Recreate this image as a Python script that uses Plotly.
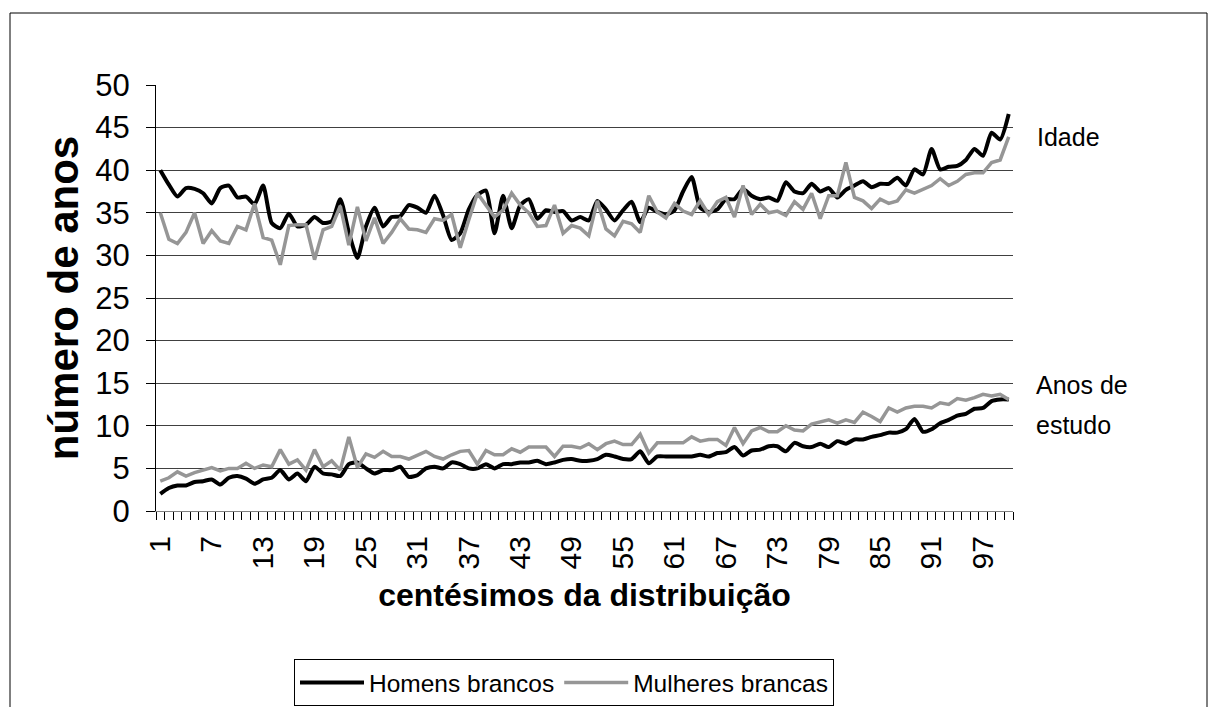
import plotly.graph_objects as go

percentis = list(range(1, 101))

homens_idade = [40.0, 38.3, 36.9, 37.9, 37.8, 37.3, 36.1, 37.9, 38.2, 36.8,
                36.9, 36.0, 38.2, 33.8, 33.2, 34.9, 33.4, 33.6, 34.5, 33.8,
                34.0, 36.6, 32.7, 29.7, 33.4, 35.6, 33.4, 34.5, 34.6, 35.9,
                35.6, 35.0, 37.0, 34.7, 31.8, 32.6, 35.4, 37.1, 37.6, 32.6,
                37.0, 33.2, 35.9, 36.6, 34.3, 35.3, 35.1, 35.2, 34.1, 34.5,
                34.1, 36.4, 35.4, 34.1, 35.3, 36.3, 33.9, 35.6, 35.1, 34.8,
                35.3, 37.5, 39.2, 35.6, 35.1, 35.4, 36.6, 36.6, 37.8, 37.0,
                36.6, 36.8, 36.4, 38.6, 37.5, 37.3, 38.4, 37.5, 37.9, 36.8,
                37.7, 38.2, 38.7, 38.0, 38.4, 38.4, 39.1, 38.2, 40.1, 39.5,
                42.5, 40.1, 40.4, 40.5, 41.2, 42.5, 41.7, 44.4, 43.6, 46.6]

mulheres_idade = [35.0, 31.9, 31.4, 32.7, 35.0, 31.4, 32.9, 31.7, 31.4, 33.4,
                  33.0, 36.1, 32.1, 31.8, 28.9, 33.5, 33.6, 33.6, 29.5, 33.0,
                  33.4, 35.8, 31.2, 35.7, 31.7, 34.4, 31.4, 32.7, 34.3, 33.1,
                  33.0, 32.7, 34.3, 34.1, 34.8, 30.9, 34.2, 37.3, 35.9, 34.5,
                  35.3, 37.3, 35.9, 35.0, 33.4, 33.5, 35.9, 32.6, 33.5, 33.2,
                  32.3, 36.4, 33.1, 32.3, 34.0, 33.7, 32.7, 37.0, 35.1, 34.4,
                  36.1, 35.2, 34.8, 36.4, 34.8, 36.3, 36.8, 34.5, 38.2, 34.8,
                  36.0, 35.0, 35.2, 34.7, 36.3, 35.4, 37.3, 34.3, 37.0, 37.0,
                  40.9, 36.8, 36.4, 35.5, 36.6, 36.1, 36.4, 37.7, 37.3, 37.7,
                  38.2, 39.0, 38.2, 38.7, 39.5, 39.7, 39.7, 40.9, 41.2, 43.9]

homens_estudo = [2.0, 2.7, 3.0, 3.0, 3.4, 3.5, 3.7, 3.1, 3.9, 4.1,
                 3.8, 3.2, 3.7, 3.9, 4.8, 3.7, 4.4, 3.5, 5.2, 4.4,
                 4.3, 4.1, 5.5, 5.7, 5.0, 4.4, 4.8, 4.8, 5.2, 4.0,
                 4.2, 5.0, 5.2, 5.0, 5.7, 5.5, 5.0, 5.0, 5.5, 5.0,
                 5.5, 5.5, 5.7, 5.7, 5.9, 5.5, 5.7, 6.0, 6.1, 5.9,
                 5.9, 6.1, 6.6, 6.4, 6.1, 6.1, 7.0, 5.6, 6.4, 6.4,
                 6.4, 6.4, 6.4, 6.6, 6.4, 6.8, 6.9, 7.5, 6.5, 7.1,
                 7.2, 7.6, 7.6, 7.0, 8.0, 7.6, 7.5, 7.9, 7.5, 8.2,
                 7.9, 8.4, 8.4, 8.7, 8.9, 9.2, 9.2, 9.6, 10.8, 9.3,
                 9.6, 10.3, 10.7, 11.2, 11.4, 12.0, 12.1, 12.9, 13.1, 13.1]

mulheres_estudo = [3.5, 3.9, 4.6, 4.1, 4.5, 4.8, 5.1, 4.7, 5.0, 5.0,
                   5.6, 5.0, 5.4, 5.2, 7.2, 5.5, 6.0, 4.8, 7.2, 5.2,
                   5.9, 4.8, 8.7, 5.1, 6.7, 6.3, 7.0, 6.4, 6.4, 6.1,
                   6.5, 7.0, 6.4, 6.1, 6.6, 7.0, 7.1, 5.5, 7.1, 6.6,
                   6.6, 7.3, 6.9, 7.5, 7.5, 7.5, 6.4, 7.6, 7.6, 7.4,
                   7.9, 7.2, 7.9, 8.2, 7.8, 7.8, 9.0, 6.8, 8.0, 8.0,
                   8.0, 8.0, 8.7, 8.2, 8.4, 8.4, 7.7, 9.8, 7.9, 9.4,
                   9.8, 9.3, 9.3, 10.0, 9.5, 9.4, 10.2, 10.5, 10.7, 10.3,
                   10.7, 10.4, 11.6, 11.1, 10.5, 12.1, 11.6, 12.1, 12.3, 12.3,
                   12.1, 12.7, 12.5, 13.2, 13.0, 13.3, 13.7, 13.5, 13.7, 13.1]

rotulos_x = [str(v) for v in range(1, 101, 6)]
valores_x = list(range(1, 101, 6))
limites_x = [v + 0.5 for v in range(0, 101)]

FONT = "Liberation Sans, Arial, sans-serif"
PRETO = "#000000"
CINZA = "#969696"

fig = go.Figure()
fig.add_trace(go.Scatter(x=percentis, y=homens_idade, mode="lines", name="Homens brancos",
                         legendgroup="h", line=dict(color=PRETO, width=4, shape="spline", smoothing=0.6)))
fig.add_trace(go.Scatter(x=percentis, y=homens_estudo, mode="lines", name="Homens brancos",
                         legendgroup="h", showlegend=False,
                         line=dict(color=PRETO, width=4, shape="spline", smoothing=0.6)))
fig.add_trace(go.Scatter(x=percentis, y=mulheres_idade, mode="lines", name="Mulheres brancas",
                         legendgroup="m", line=dict(color=CINZA, width=3.5)))
fig.add_trace(go.Scatter(x=percentis, y=mulheres_estudo, mode="lines", name="Mulheres brancas",
                         legendgroup="m", showlegend=False, line=dict(color=CINZA, width=3.5)))

W, H = 1217, 707
L, R, T, B = 156, 204, 85, 196
pw, ph = W - L - R, H - T - B

def px_x(p):
    return (p - L) / pw

def px_y(p):
    return (H - B - p) / ph

fig.update_layout(
    width=W, height=H,
    margin=dict(l=L, r=R, t=T, b=B, autoexpand=False),
    paper_bgcolor="white", plot_bgcolor="white",
    font=dict(family=FONT, color="black", size=26),
    showlegend=True,
    legend=dict(orientation="h", x=px_x(564), y=px_y(659), xanchor="center", yanchor="top",
                bordercolor="black", borderwidth=1, bgcolor="white",
                font=dict(size=24.5, family=FONT), itemwidth=64, traceorder="normal"),
    xaxis=dict(
        range=[0.5, 100.5], tickmode="array", tickvals=valores_x, ticktext=rotulos_x,
        tickangle=-90, ticks="", showgrid=False, zeroline=False,
        showline=True, linecolor="#808080", linewidth=1,
        tickfont=dict(size=30, family=FONT), automargin=False,
        ticklabelstandoff=12,
        minor=dict(tickmode="array", tickvals=limites_x, ticks="outside", ticklen=8,
                   tickcolor="black", tickwidth=1, showgrid=False),
        title=dict(text="<b>centésimos da distribuição</b>", font=dict(size=32, family=FONT), standoff=15),
    ),
    yaxis=dict(
        range=[0, 50], tickmode="linear", tick0=0, dtick=5,
        showgrid=True, gridcolor="#404040", gridwidth=1, zeroline=False,
        showline=True, linecolor="black", linewidth=1,
        ticks="outside", ticklen=9, tickcolor="black",
        tickfont=dict(size=31, family=FONT), automargin=False,
        ticklabelstandoff=10,
        title=dict(text="<b>número de anos</b>", font=dict(size=42, family=FONT), standoff=3),
    ),
    shapes=[dict(type="rect", xref="paper", yref="paper",
                 x0=px_x(10), x1=px_x(1207), y0=px_y(800), y1=px_y(13),
                 line=dict(color="black", width=1), fillcolor="rgba(0,0,0,0)", layer="below")],
    annotations=[
        dict(text="Idade", xref="paper", yref="paper", x=px_x(1035), y=px_y(137),
             xanchor="left", yanchor="middle", showarrow=False, font=dict(size=25, family=FONT)),
        dict(text="Anos de", xref="paper", yref="paper", x=px_x(1034), y=px_y(385),
             xanchor="left", yanchor="middle", showarrow=False, font=dict(size=25, family=FONT)),
        dict(text="estudo", xref="paper", yref="paper", x=px_x(1034), y=px_y(425),
             xanchor="left", yanchor="middle", showarrow=False, font=dict(size=25, family=FONT)),
    ],
)

fig.write_html("out.html", config={"displayModeBar": False},
               post_script="document.body.style.margin='0';")
